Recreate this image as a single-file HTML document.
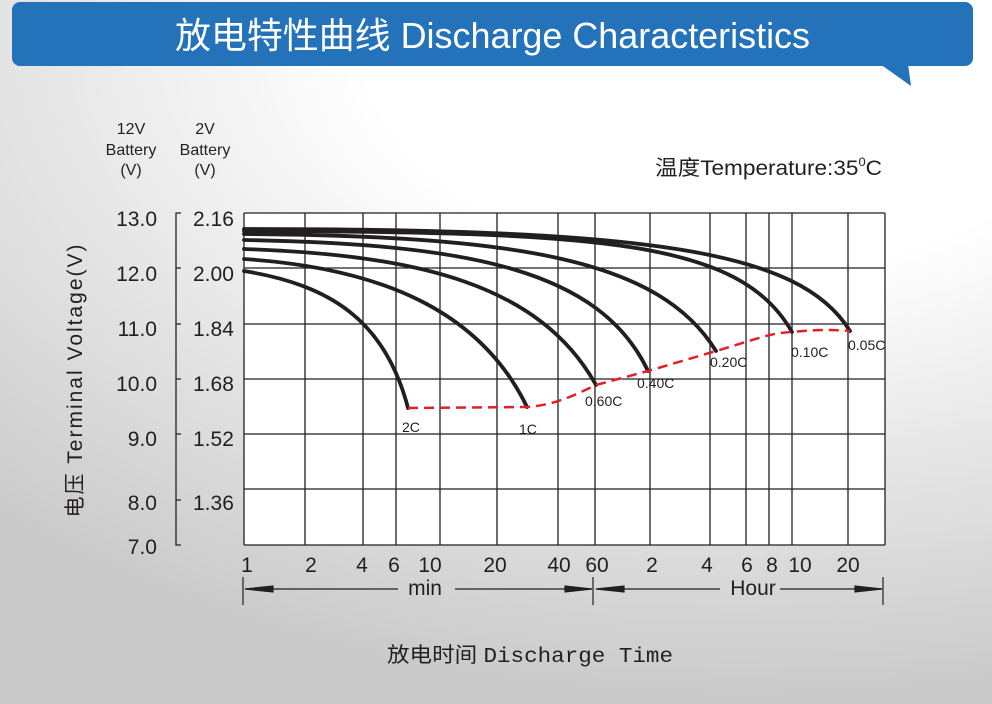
<!DOCTYPE html>
<html><head><meta charset="utf-8"><style>
html,body{margin:0;padding:0;width:992px;height:704px;overflow:hidden}
body{background:radial-gradient(ellipse 110% 95% at 75% 5%,#ffffff 35%,#e6e6e6 65%,#c9c9c9 100%)}
svg{position:absolute;left:0;top:0}
text{font-family:"Liberation Sans","Noto Sans CJK SC",sans-serif;fill:#231f20}
</style></head><body>
<svg width="992" height="704" viewBox="0 0 992 704">
<rect x="12" y="2" width="961" height="64" rx="8" fill="#2372ba"/>
<polygon points="880,64 908,64 911,86" fill="#2372ba"/>
<text x="175" y="48" font-size="36" textLength="635" lengthAdjust="spacingAndGlyphs" style="fill:#fff">放电特性曲线 Discharge Characteristics</text>

<text x="655" y="175" font-size="21" textLength="227" lengthAdjust="spacingAndGlyphs">温度Temperature:35<tspan font-size="12" dy="-9">0</tspan><tspan dy="9">C</tspan></text>

<g font-size="16" text-anchor="middle">
<text x="131" y="134">12V</text><text x="131" y="155">Battery</text><text x="131" y="175">(V)</text>
<text x="205" y="134">2V</text><text x="205" y="155">Battery</text><text x="205" y="175">(V)</text>
</g>
<text transform="translate(82,380) rotate(-90)" text-anchor="middle" font-size="21" letter-spacing="2">电压 Terminal Voltage(V)</text>

<rect x="244" y="213" width="641" height="332" fill="#fff"/>
<g stroke="#231f20" stroke-width="1.3" fill="none">
<path d="M244,213H885M244,268H885M244,324H885M244,379H885M244,434H885M244,489H885M244,545H885"/>
<path d="M244,213V545M305,213V545M363,213V545M396,213V545M440,213V545M497,213V545M558,213V545M595,213V545M650,213V545M710,213V545M746,213V545M769,213V545M792,213V545M848,213V545M885,213V545"/>
<path d="M181,213H176V545H181M176,268H181M176,324H181M176,379H181M176,434H181M176,500H181"/>
</g>
<g font-size="21" text-anchor="end">
<text x="157" y="226">13.0</text><text x="157" y="281">12.0</text><text x="157" y="336">11.0</text><text x="157" y="391">10.0</text><text x="157" y="446">9.0</text><text x="157" y="510">8.0</text><text x="157" y="554">7.0</text>
</g>
<g font-size="21">
<text x="193" y="226">2.16</text><text x="193" y="281">2.00</text><text x="193" y="336">1.84</text><text x="193" y="391">1.68</text><text x="193" y="446">1.52</text><text x="193" y="510">1.36</text>
</g>

<g stroke="#231f20" stroke-width="3.8" fill="none" stroke-linecap="round">
<path d="M244,229 C650,229 800,250 850,331"/>
<path d="M244,231 C600,232 740,240 792,332"/>
<path d="M244,234 C520,236 660,260 716,351"/>
<path d="M244,240 C470,244 600,270 648,371"/>
<path d="M244,249 C420,255 540,285 596,385"/>
<path d="M244,259 C380,268 480,310 527,407"/>
<path d="M244,271 C330,285 385,320 408,408"/>
</g>
<path d="M408,408 L527,407 C555,405 575,395 596,385 L648,371 L716,351 C760,338 770,333 792,332 C820,329 840,330 850,331" stroke="#e31e24" stroke-width="2.5" fill="none" stroke-dasharray="10,6"/>

<g font-size="14">
<text x="402" y="432">2C</text><text x="519" y="434">1C</text><text x="585" y="406">0.60C</text><text x="637" y="388">0.40C</text><text x="710" y="367">0.20C</text><text x="791" y="357">0.10C</text><text x="848" y="350">0.05C</text>
</g>

<g font-size="21" text-anchor="middle">
<text x="247" y="572">1</text><text x="311" y="572">2</text><text x="362" y="572">4</text><text x="394" y="572">6</text><text x="430" y="572">10</text><text x="495" y="572">20</text><text x="559" y="572">40</text><text x="597" y="572">60</text>
<text x="652" y="572">2</text><text x="707" y="572">4</text><text x="747" y="572">6</text><text x="772" y="572">8</text><text x="800" y="572">10</text><text x="848" y="572">20</text>
<text x="425" y="595">min</text><text x="753" y="595">Hour</text>
</g>
<g stroke="#231f20" stroke-width="1.2" fill="#231f20">
<path d="M243,577V605M593,577V605M883,577V605" fill="none"/>
<path d="M245,589H398M455,589H592M596,589H720M780,589H882" fill="none"/>
<polygon points="245,589 273,586 273,592"/>
<polygon points="592,589 565,586 565,592"/>
<polygon points="596,589 624,586 624,592"/>
<polygon points="882,589 855,586 855,592"/>
</g>
<text x="387" y="662" font-size="21" textLength="286" lengthAdjust="spacingAndGlyphs">放电时间 <tspan font-family="Liberation Mono,monospace">Discharge Time</tspan></text>
</svg>
</body></html>
